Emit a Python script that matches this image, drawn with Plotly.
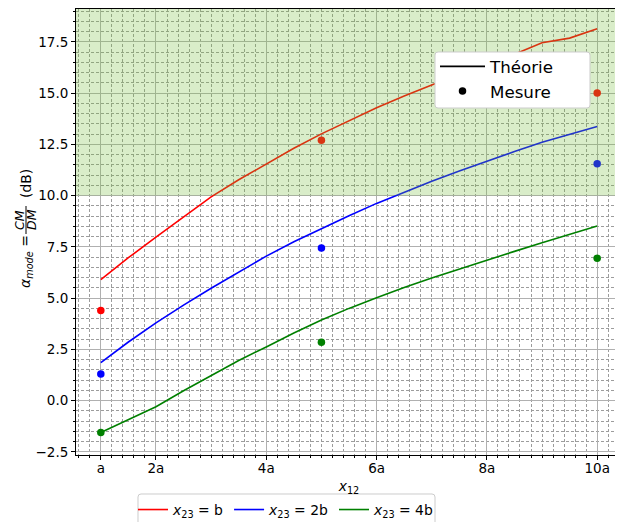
import plotly.graph_objects as go

# ---------------- data ----------------
x_theory = [1, 1.5, 2, 2.5, 3, 3.5, 4, 4.5, 5, 5.5, 6, 6.5, 7, 7.5, 8, 8.5, 9, 9.5, 10]
theory_b = [5.9, 6.97, 7.97, 8.97, 9.94, 10.77, 11.56, 12.31, 13.01, 13.66, 14.28, 14.86, 15.41, 15.93, 16.43, 16.89, 17.45, 17.68, 18.14]
theory_2b = [1.86, 2.86, 3.79, 4.66, 5.48, 6.27, 7.05, 7.75, 8.40, 9.02, 9.62, 10.17, 10.70, 11.20, 11.68, 12.15, 12.60, 12.98, 13.37]
theory_4b = [-1.55, -0.93, -0.3, 0.48, 1.24, 1.96, 2.62, 3.3, 3.93, 4.5, 5.02, 5.52, 5.98, 6.42, 6.85, 7.28, 7.7, 8.1, 8.52]

x_meas = [1, 5, 10]
meas_b = [4.4, 12.7, 15.0]
meas_2b = [1.3, 7.45, 11.55]
meas_4b = [-1.55, 2.85, 6.95]

x_tickvals = [1, 2, 4, 6, 8, 10]
x_ticktext = ["a", "2a", "4a", "6a", "8a", "10a"]

series_names = ["<i>x</i><sub>23</sub> = b", "<i>x</i><sub>23</sub> = 2b", "<i>x</i><sub>23</sub> = 4b"]
series_colors = ["#ff0000", "#0000ff", "#008000"]

# ---------------- figure ----------------
# page has an 8px body margin: figure coordinates = page coordinates - 8
OFF = 8
W, H = 623 - OFF, 522 - OFF
ML, MR, MT, MB = 68, 1, 1, 67
PW, PH = W - ML - MR, H - MT - MB

def px2x(page_x):
    return (page_x - OFF - ML) / PW

def px2y(page_y):
    return 1 - (page_y - OFF - MT) / PH

def rounded_box(x0, y0, x1, y1, r=3):
    pts = []
    def P(cmd, x, y):
        pts.append(f"{cmd}{px2x(x):.5f},{px2y(y):.5f}")
    P("M", x0 + r, y0)
    P("L", x1 - r, y0)
    pts.append(f"Q{px2x(x1):.5f},{px2y(y0):.5f} {px2x(x1):.5f},{px2y(y0 + r):.5f}")
    P("L", x1, y1 - r)
    pts.append(f"Q{px2x(x1):.5f},{px2y(y1):.5f} {px2x(x1 - r):.5f},{px2y(y1):.5f}")
    P("L", x0 + r, y1)
    pts.append(f"Q{px2x(x0):.5f},{px2y(y1):.5f} {px2x(x0):.5f},{px2y(y1 - r):.5f}")
    P("L", x0, y0 + r)
    pts.append(f"Q{px2x(x0):.5f},{px2y(y0):.5f} {px2x(x0 + r):.5f},{px2y(y0):.5f}")
    return " ".join(pts) + " Z"

FONT = "DejaVu Sans"
fig = go.Figure()

for name, col, yt, ym in zip(series_names, series_colors,
                             [theory_b, theory_2b, theory_4b],
                             [meas_b, meas_2b, meas_4b]):
    fig.add_trace(go.Scatter(x=x_theory, y=yt, mode="lines", name=name,
                             line=dict(color=col, width=1.6), legend="legend"))
    fig.add_trace(go.Scatter(x=x_meas, y=ym, mode="markers", showlegend=False,
                             marker=dict(color=col, size=7.5, line=dict(width=0))))

# dummy traces for style legend
fig.add_trace(go.Scatter(x=[None], y=[None], mode="lines", name="Théorie",
                         line=dict(color="black", width=1.6), legend="legend2"))
fig.add_trace(go.Scatter(x=[None], y=[None], mode="markers", name="Mesure",
                         marker=dict(color="black", size=7.5), legend="legend2"))

# green zone above 10 dB
fig.add_shape(type="rect", xref="paper", yref="y", x0=0, x1=1, y0=10, y1=19.1,
              fillcolor="rgba(120,190,60,0.28)", line=dict(width=0), layer="above")

# legend frames (matplotlib-like rounded boxes)
fig.add_shape(type="path", xref="paper", yref="paper", path=rounded_box(435, 52, 590, 108),
              fillcolor="white", line=dict(color="#cccccc", width=1), layer="above")
fig.add_shape(type="path", xref="paper", yref="paper", path=rounded_box(138, 494, 435, 530),
              fillcolor="white", line=dict(color="#cccccc", width=1), layer="above")

axis_common = dict(
    showline=True, linecolor="black", linewidth=1, mirror=True,
    ticks="outside", ticklen=4, tickcolor="black", tickwidth=1,
    showgrid=True, gridcolor="#b0b0b0", gridwidth=1.4, zeroline=False,
    tickfont=dict(family=FONT, size=13.5, color="black"),
)

fig.update_xaxes(
    range=[0.55, 10.45], tickmode="array", tickvals=x_tickvals, ticktext=x_ticktext,
    ticklabelstandoff=-3,
    minor=dict(tick0=0, dtick=0.2, ticks="outside", ticklen=2, tickcolor="black",
               showgrid=True, gridcolor="#9c9c9c", gridwidth=0.8, griddash="3px,2px"),
    title=dict(text="<i>x</i><sub>12</sub>", font=dict(family=FONT, size=13.9, color="black"),
               standoff=6),
    **axis_common,
)
fig.update_yaxes(
    range=[-2.65, 19.1], tick0=0, dtick=2.5, tickformat=".1f",
    minor=dict(tick0=0, dtick=0.5, ticks="outside", ticklen=2, tickcolor="black",
               showgrid=True, gridcolor="#9c9c9c", gridwidth=0.8, griddash="3px,2px"),
    **axis_common,
)

# y-axis title built from pieces (fraction)
lab_font = dict(family=FONT, size=13.9, color="black")
frac_font = dict(family=FONT, size=12.5, color="black")
annos = [
    dict(text="<i>α</i><sub><i>mode</i></sub> =", px=26, py=262, font=lab_font),
    dict(text="<i>CM</i>", px=20, py=220, font=frac_font),
    dict(text="<i>DM</i>", px=32, py=220, font=frac_font),
    dict(text="(dB)", px=26, py=184, font=lab_font),
]
for a in annos:
    fig.add_annotation(text=a["text"], xref="paper", yref="paper",
                       x=px2x(a["px"]), y=px2y(a["py"]), xanchor="center", yanchor="middle",
                       showarrow=False, textangle=-90, font=a["font"])
fig.add_shape(type="line", xref="paper", yref="paper",
              x0=px2x(26), x1=px2x(26), y0=px2y(206), y1=px2y(234),
              line=dict(color="black", width=1))

fig.update_layout(
    width=W, height=H,
    margin=dict(l=ML, r=MR, t=MT, b=MB, autoexpand=False),
    plot_bgcolor="white", paper_bgcolor="white",
    font=dict(family=FONT, size=13.9, color="black"),
    legend=dict(orientation="h", x=px2x(286), y=px2y(494), xanchor="center", yanchor="top",
                bgcolor="rgba(0,0,0,0)", borderwidth=0,
                font=dict(family=FONT, size=13.9, color="black")),
    legend2=dict(orientation="v", x=px2x(435), y=px2y(49), xanchor="left", yanchor="top",
                 bgcolor="rgba(0,0,0,0)", borderwidth=0, itemwidth=45,
                 font=dict(family=FONT, size=16.7, color="black")),
)

fig.write_html("out.html")
